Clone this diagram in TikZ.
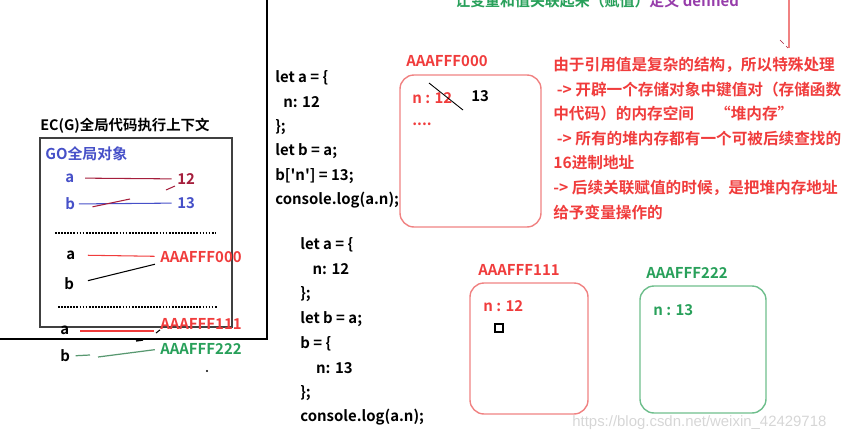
\documentclass[tikz,border=0pt]{standalone}
\usepackage{fontspec}
\newfontfamily\yafont{Noto Sans CJK SC Bold}
\newfontfamily\wmfont{Liberation Sans}
\definecolor{hired}{RGB}{240,60,60}
\definecolor{boxred}{RGB}{240,130,130}
\definecolor{higreen}{RGB}{40,160,90}
\definecolor{boxgreen}{RGB}{110,190,140}
\definecolor{goblue}{RGB}{70,80,200}
\definecolor{oldred}{RGB}{165,30,60}
\definecolor{defpurple}{RGB}{150,60,170}
\tikzset{
  every node/.style={inner sep=0pt, font=\yafont\fontsize{8.5}{10}\selectfont},
  code/.style={anchor=west},
  note/.style={anchor=west, text=hired, font=\yafont\fontsize{8.9}{10}\selectfont},
  heapbox/.style={rounded corners=8pt, line width=0.8pt},
  link/.style={line width=0.6pt, shorten <=6pt, shorten >=3pt},
  sep/.style={dash pattern=on 1pt off 0.75pt, line width=1.5pt}
}
\begin{document}
\begin{tikzpicture}[x=0.02cm, y=-0.02cm]
    \useasboundingbox (0,0) rectangle (853,443);
    % heading cut by the top edge
    \node[anchor=west] (defn) at (455,1) {\textcolor{higreen}{让变量和值关联起来（赋值）}\textcolor{defpurple}{定义 defined}};
    \draw[boxred, line width=0.7pt] (789,0) -- (789,48);
    \draw[oldred, densely dashed, line width=0.4pt] (780,40) -- (788,48);

    % EC(G)
    \draw[line width=0.7pt] (-2,339) -- (267,339) -- (267,-2);
    \node[anchor=west, font=\yafont\fontsize{8.2}{10}\selectfont] (ecg) at (40,126) {EC(G)全局代码执行上下文};
    \draw[line width=0.7pt, black!75] (40,138) rectangle (232,327);
    \node[anchor=west, text=goblue] (go) at (45,154) {GO全局对象};

    \node[anchor=west, text=goblue] (va1) at (65,178) {a};
    \node[anchor=west, text=oldred] (v12) at (177,179) {12};
    \node[anchor=west, text=goblue] (vb1) at (65,204) {b};
    \node[anchor=west, text=goblue] (v13) at (177,203) {13};
    \draw[link, oldred] (va1) -- (v12);
    \draw[link, goblue, shorten <=2pt] (vb1) -- (v13);
    \coordinate (cut1) at (130,199);
    \draw[oldred, line width=0.6pt, shorten <=10pt] (vb1.south east) -- (cut1);
    \draw[oldred, line width=0.6pt] (166,190) -- (175,186);

    \draw[sep] (55,233) -- (216,233);
    \node[anchor=west] (va2) at (66,255) {a};
    \node[anchor=west, text=hired] (p000) at (160,257) {AAAFFF000};
    \node[anchor=west] (vb2) at (64,284) {b};
    \draw[link, hired, shorten <=7pt] (va2) -- (p000);
    \draw[line width=0.6pt, shorten <=8pt, shorten >=3pt] (vb2.east) -- (p000.south west);

    \draw[sep] (58,307) -- (217,307);
    \node[anchor=west] (va3) at (60,330) {a};
    \node[anchor=west, text=hired] (p111) at (160,324) {AAAFFF111};
    \node[anchor=west] (vb3) at (60,356) {b};
    \node[anchor=west, text=higreen] (p222) at (160,349) {AAAFFF222};
    \draw[hired, line width=0.6pt] (80,331) -- (154,331);
    \draw[line width=0.6pt] (156,333) -- (p111.south west);
    \draw[boxgreen!80!black, line width=0.7pt, shorten <=3pt] (vb3.east) -- (90,355);
    \draw[boxgreen!80!black, line width=0.7pt, shorten >=3pt] (98,357) -- (p222.west);
    \draw[line width=0.8pt] (136,341) -- (143,340);
    \fill (207,371) circle (0.7pt);

    % code 1
    \foreach \ln [count=\i] in {let a = \{, \hspace{4.5pt}n: 12, \};, let b = a;, b['n'] = 13;, console.log(a.n);}
        \node[code] (codeA\i) at (275,{78+24.4*(\i-1)}) {\ln};

    % heap AAAFFF000
    \node[anchor=west, text=hired] (h000) at (406,61) {AAAFFF000};
    \draw[heapbox, boxred] (400,75) rectangle (541,227);
    \node[anchor=west, text=hired] (n12a) at (412,98) {n : 12};
    \node[anchor=west] (n13a) at (471,96) {13};
    \node[anchor=west, text=hired] (dots) at (412,124) {....};
    \draw[line width=0.5pt] (429,83) -- (463,110);

    % notes
    \foreach \ln [count=\i] in {由于引用值是复杂的结构，所以特殊处理, \hspace{2pt}-> 开辟一个存储对象中键值对（存储函数, 中代码）的内存空间\hspace{12pt}“堆内存”, \hspace{2pt}-> 所有的堆内存都有一个可被后续查找的, 16进制地址, -> 后续关联赋值的时候，是把堆内存地址, 给予变量操作的}
        \node[note] (note\i) at (553,{65+24.5*(\i-1)}) {\ln};

    % code 2
    \foreach \ln [count=\i] in {let a = \{, \hspace{7pt}n: 12, \};, let b = a;, b = \{, \hspace{9pt}n: 13, \};, console.log(a.n);}
        \node[code] (codeB\i) at (300,{245+24.6*(\i-1)}) {\ln};

    % heap AAAFFF111
    \node[anchor=west, text=hired] (h111) at (478,270) {AAAFFF111};
    \draw[heapbox, boxred] (470,283) rectangle (588,414);
    \node[anchor=west, text=hired] (n12b) at (483,306) {n : 12};
    \draw[line width=0.6pt] (495,324) rectangle (503,332);

    % heap AAAFFF222
    \node[anchor=west, text=higreen] (h222) at (646,273) {AAAFFF222};
    \draw[heapbox, boxgreen] (640,286) rectangle (766,413);
    \node[anchor=west, text=higreen] (n13b) at (653,310) {n : 13};

    \node[anchor=west, text=black!16, font=\wmfont\fontsize{8.5}{10}\selectfont] (wm) at (572,423) {https://blog.csdn.net/weixin\_42429718};
\end{tikzpicture}
\end{document}
